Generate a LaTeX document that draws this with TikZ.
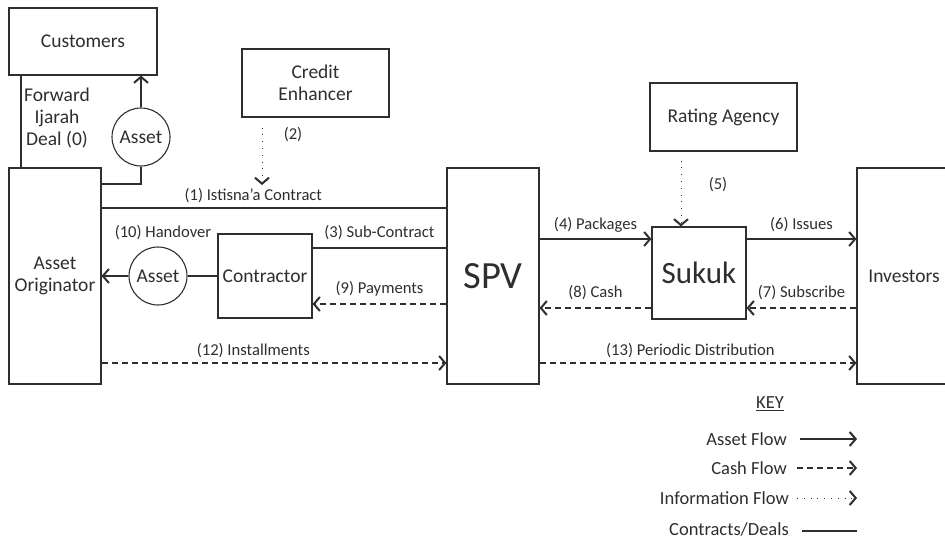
\documentclass[tikz,border=0pt]{standalone}
\usepackage{fontspec}
\setmainfont{Carlito}
\usetikzlibrary{arrows.meta}
\definecolor{ink}{rgb}{0.18,0.18,0.18}
\tikzset{
  box/.style={draw=ink, line width=1.1pt, text=ink, align=center, inner sep=0pt, font=\fontsize{19.5}{22}\selectfont},
  disc/.style={draw=ink, line width=1.1pt, circle, text=ink, inner sep=0pt, font=\fontsize{19.5}{22}\selectfont},
  tip/.style={-{Straight Barb[length=6pt,width=14pt,line width=2pt]}},
  deal/.style={draw=ink, line width=1.1pt},
  assetflow/.style={deal, tip},
  cashflow/.style={deal, tip, dash pattern=on 6pt off 4pt},
  infoflow/.style={deal, tip, line width=0.8pt, dash pattern=on 0.8pt off 6pt},
  lbl/.style={text=ink, font=\fontsize{16.6}{19}\selectfont, inner sep=0pt},
  keylbl/.style={lbl, font=\fontsize{18.5}{21}\selectfont, anchor=east}
}
\begin{document}
\begin{tikzpicture}[x=1pt,y=-1pt]
\useasboundingbox (0,0) rectangle (945,541);

% parties
\node[box, minimum width=148, minimum height=67] (cust) at (83,41.5) {Customers};
\node[box, minimum width=147, minimum height=68] (ce) at (315.5,83) {Credit\\Enhancer};
\node[box, minimum width=147, minimum height=68] (ra) at (723.5,117) {Rating Agency};
\node[box, minimum width=92, minimum height=216] (ao) at (55,276) {Asset\\Originator};
\node[box, minimum width=92, minimum height=216, font=\fontsize{38.5}{42}\selectfont] (spv) at (493,276) {SPV};
\node[box, minimum width=94, minimum height=216] (inv) at (904,276) {Investors};
\node[box, minimum width=94, minimum height=84] (con) at (265,276) {Contractor};
\node[box, minimum width=94, minimum height=92, font=\fontsize{31}{34}\selectfont] (suk) at (699,273) {Sukuk};
\node[disc, minimum size=58] (a1) at (141,137) {Asset};
\node[disc, minimum size=58] (a2) at (158,276) {Asset};

% reference levels
\coordinate (y0) at (0,184);
\coordinate (y1) at (0,208);
\coordinate (y3) at (0,248);
\coordinate (y4) at (0,239);
\coordinate (y8) at (0,308);
\coordinate (y9) at (0,304);
\coordinate (y12) at (0,363);
\coordinate (xf) at (21,0);
\coordinate (x2) at (262,0);
\coordinate (x5) at (681,0);

% forward ijarah deal
\draw[deal] (cust.south -| xf) -- (ao.north -| xf);
\node[lbl, font=\fontsize{19.5}{22}\selectfont, align=center] (fid) at (57,118) {Forward\\Ijarah\\Deal (0)};

% asset to customers
\draw[deal] (ao.east |- y0) -| (a1.south);
\draw[assetflow] (a1.north) -- (cust.south -| a1);

% (1) istisna'a contract
\draw[deal] (ao.east |- y1) -- node[lbl, pos=0.44, yshift=12pt] (l1) {(1) Istisna'a Contract} (spv.west |- y1);

% (2) credit enhancement
\coordinate (c2) at (262,185);
\draw[infoflow] (ce.south -| x2) ++(0,10) -- (c2);
\node[lbl] (l2) at (293,135) {(2)};

% (3) sub-contract
\draw[deal] (con.east |- y3) -- node[lbl, yshift=15pt] (l3) {(3) Sub-Contract} (spv.west |- y3);

% (9) payments
\draw[cashflow] (spv.west |- y9) -- node[lbl, yshift=15pt] (l9) {(9) Payments} (con.east |- y9);

% (10) handover
\draw[deal] (con.west) -- (a2.east);
\draw[assetflow] (a2.west) -- (ao.east |- a2);
\node[lbl] (l10) at (163,233) {(10) Handover};

% (12) installments
\draw[cashflow] (ao.east |- y12) -- node[lbl, pos=0.44, yshift=12pt] (l12) {(12) Installments} (spv.west |- y12);

% (4) packages and (6) issues
\draw[assetflow] (spv.east |- y4) -- node[lbl, yshift=14pt] (l4) {(4) Packages} (suk.west |- y4);
\draw[assetflow] (suk.east |- y4) -- node[lbl, yshift=14pt] (l6) {(6) Issues} (inv.west |- y4);

% (5) rating
\draw[infoflow] (ra.south -| x5) ++(0,9) -- (suk.north -| x5);
\node[lbl] (l5) at (718,185) {(5)};

% (7) subscribe and (8) cash
\draw[cashflow] (inv.west |- y8) -- node[lbl, yshift=15pt] (l7) {(7) Subscribe} (suk.east |- y8);
\draw[cashflow] (suk.west |- y8) -- node[lbl, yshift=15pt] (l8) {(8) Cash} (spv.east |- y8);

% (13) periodic distribution
\draw[cashflow] (spv.east |- y12) -- node[lbl, pos=0.476, yshift=12pt] (l13) {(13) Periodic Distribution} (inv.west |- y12);

% key
\node[keylbl, anchor=center] (key) at (770,404) {\underline{KEY}};
\node[keylbl] (k1) at (787,439) {Asset Flow};
\node[keylbl] (k2) at (787,468) {Cash Flow};
\node[keylbl] (k3) at (789,498) {Information Flow};
\node[keylbl] (k4) at (789,529) {Contracts/Deals};
\coordinate (ke1) at (857,439);
\coordinate (ke2) at (857,468);
\coordinate (ke3) at (857,498);
\coordinate (ke4) at (857,531);
\draw[assetflow] ([xshift=13pt]k1.east) -- (ke1);
\draw[cashflow, dash pattern=on 6pt off 4pt] ([xshift=10pt]k2.east) -- (ke2);
\draw[infoflow, dash pattern=on 0.8pt off 6pt] ([xshift=8pt]k3.east) -- (ke3);
\draw[deal] ([xshift=13pt]k4.east |- ke4) -- (ke4);
\end{tikzpicture}
\end{document}
